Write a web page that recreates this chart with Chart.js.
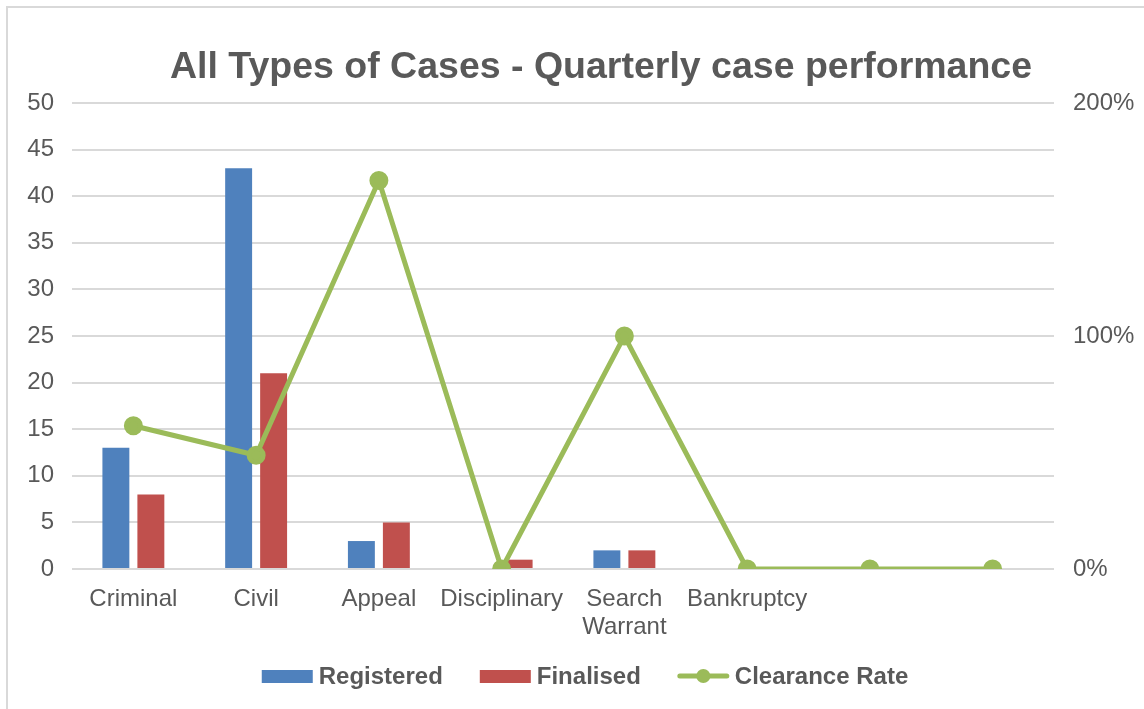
<!DOCTYPE html>
<html>
<head>
<meta charset="utf-8">
<title>All Types of Cases - Quarterly case performance</title>
<script src="https://cdn.jsdelivr.net/npm/chart.js@4/dist/chart.umd.min.js"></script>
<style>
  body { margin: 0; background: #fff; }
  #wrap { position: relative; width: 1144px; height: 709px; }
  #frame { position: absolute; left: 6px; top: 6px; right: 0; bottom: 0;
           border-left: 2px solid #d9d9d9; border-top: 2px solid #d9d9d9; pointer-events: none; }
  canvas { position: absolute; left: 0; top: 0; }
</style>
</head>
<body>
<div id="wrap">
  <canvas id="caseChart" width="1144" height="709"></canvas>
  <div id="frame"></div>
</div>
<script>
// Data
const categories = ['Criminal', 'Civil', 'Appeal', 'Disciplinary', ['Search', 'Warrant'], 'Bankruptcy', '', ''];
const registered = [13, 43, 3, 0, 2, 0, 0, 0];
const finalised = [8, 21, 5, 1, 2, 0, 0, 0];
const clearanceRate = [61.5, 48.8, 166.7, 0, 100, 0, 0, 0];
const countTicks = [0, 5, 10, 15, 20, 25, 30, 35, 40, 45, 50];
const rateTicks = [0, 100, 200];

const textGray = '#595959';
const gridGray = '#d9d9d9';
const fontFamily = '"Liberation Sans", Arial, sans-serif';

// Title drawn above the plot
const titlePlugin = {
    id: 'titleText',
    afterDraw(chart) {
        const ctx = chart.ctx;
        ctx.save();
        ctx.font = 'bold 37.5px ' + fontFamily;
        ctx.fillStyle = textGray;
        ctx.textAlign = 'center';
        ctx.textBaseline = 'alphabetic';
        ctx.fillText('All Types of Cases - Quarterly case performance', 601, 78);
        ctx.restore();
    }
};

// Legend drawn at the bottom, Excel style
const legendPlugin = {
    id: 'bottomLegend',
    afterDraw(chart) {
        const ctx = chart.ctx;
        const sets = chart.data.datasets.slice().sort((a, b) => a.legendIndex - b.legendIndex);
        ctx.save();
        ctx.font = 'bold 24px ' + fontFamily;
        ctx.textBaseline = 'middle';
        const keyW = 51, keyGap = 6, itemGap = 37;
        const widths = sets.map(ds => keyW + keyGap + ctx.measureText(ds.label).width);
        const total = widths.reduce((a, b) => a + b, 0) + itemGap * (sets.length - 1);
        let x = 585 - total / 2;
        const y = 676;
        sets.forEach((ds, i) => {
            if (ds.type === 'line') {
                ctx.strokeStyle = ds.borderColor;
                ctx.lineWidth = ds.borderWidth;
                ctx.lineCap = 'round';
                ctx.beginPath();
                ctx.moveTo(x + 2, y);
                ctx.lineTo(x + keyW - 2, y);
                ctx.stroke();
                ctx.fillStyle = ds.pointBackgroundColor;
                ctx.beginPath();
                ctx.arc(x + keyW / 2, y, 7, 0, Math.PI * 2);
                ctx.fill();
            } else {
                ctx.fillStyle = ds.backgroundColor;
                ctx.fillRect(x, y - 6, keyW, 13);
            }
            ctx.fillStyle = textGray;
            ctx.textAlign = 'left';
            ctx.fillText(ds.label, x + keyW + keyGap, y + 1);
            x += widths[i] + itemGap;
        });
        ctx.restore();
    }
};

const ctx = document.getElementById('caseChart');

const caseChart = new Chart(ctx, {
    type: 'bar',
    data: {
        labels: categories,
        datasets: [
            {
                type: 'line',
                label: 'Clearance Rate',
                legendIndex: 2,
                data: clearanceRate,
                yAxisID: 'yRate',
                borderColor: '#9bbb59',
                backgroundColor: '#9bbb59',
                pointBackgroundColor: '#9bbb59',
                pointBorderColor: '#9bbb59',
                borderWidth: 5,
                pointRadius: 7,
                tension: 0,
                order: 0
            },
            {
                label: 'Registered',
                legendIndex: 0,
                data: registered,
                yAxisID: 'y',
                backgroundColor: '#4f81bd',
                categoryPercentage: 0.57,
                barPercentage: 0.77,
                order: 1
            },
            {
                label: 'Finalised',
                legendIndex: 1,
                data: finalised,
                yAxisID: 'y',
                backgroundColor: '#c0504d',
                categoryPercentage: 0.57,
                barPercentage: 0.77,
                order: 1
            }
        ]
    },
    options: {
        responsive: false,
        animation: false,
        layout: { padding: { top: 103, left: 0, right: 0, bottom: 0 } },
        plugins: {
            legend: { display: false },
            title: { display: false },
            tooltip: { enabled: false }
        },
        scales: {
            x: {
                grid: { display: false, drawTicks: false },
                border: { display: false },
                ticks: {
                    color: textGray,
                    font: { family: fontFamily, size: 24, lineHeight: 1.17 },
                    padding: 16,
                    maxRotation: 0,
                    autoSkip: false
                },
                afterFit(scale) { scale.height = 140; }
            },
            y: {
                position: 'left',
                min: 0,
                max: 50,
                afterBuildTicks(scale) { scale.ticks = countTicks.map(v => ({ value: v })); },
                grid: { color: gridGray, lineWidth: 2, drawTicks: false },
                border: { display: false },
                ticks: {
                    color: textGray,
                    font: { family: fontFamily, size: 24 },
                    padding: 18
                },
                afterFit(scale) { scale.width = 72; }
            },
            yRate: {
                position: 'right',
                min: 0,
                max: 200,
                afterBuildTicks(scale) { scale.ticks = rateTicks.map(v => ({ value: v })); },
                grid: { display: false, drawTicks: false },
                border: { display: false },
                ticks: {
                    color: textGray,
                    font: { family: fontFamily, size: 24 },
                    padding: 19,
                    callback: v => v + '%'
                },
                afterFit(scale) { scale.width = 90; }
            }
        }
    },
    plugins: [titlePlugin, legendPlugin]
});
</script>
</body>
</html>
